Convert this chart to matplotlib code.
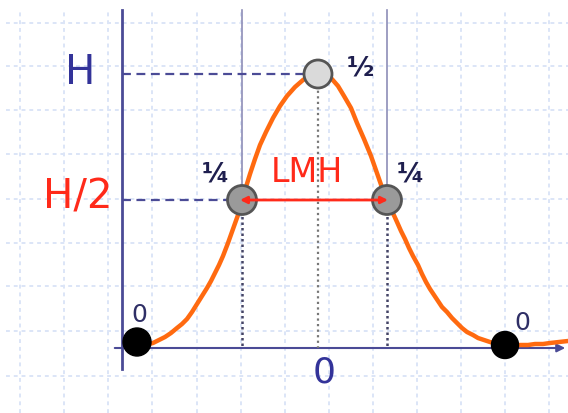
import numpy as np
import matplotlib
matplotlib.use('Agg')
import matplotlib.pyplot as plt
from matplotlib.patches import Circle

# line profile, x relative to the peak, y height above the baseline
profile_x = [-181, -177, -173, -169, -165, -159, -153, -147, -141, -136, -131, -126,
             -121, -116, -111, -107, -103, -99, -95, -90, -85, -80, -76, -72,
             -68, -63, -58, -52, -45, -38, -31, -23, -15, -8, 0,
             7, 13, 20, 26, 33, 39, 46, 53, 60, 68,
             74, 79, 83, 87, 91, 95, 100, 104, 108, 112, 116, 120, 124,
             129, 134, 139, 144, 149, 155, 160, 166, 172, 180, 187,
             195, 202, 210, 217, 225, 232, 241, 250]
profile_y = [2, 2, 3, 4, 5, 8, 11, 15, 20, 24, 29, 36,
             44, 52, 60, 67, 75, 83, 92, 105, 119, 133, 147, 161,
             174, 189, 203, 216, 230, 242, 252, 261, 268, 273, 275,
             274, 270, 262, 252, 240, 225, 209, 192, 172, 149,
             137, 126, 117, 109, 100, 92, 83, 74, 66, 59, 53, 47, 41,
             36, 30, 25, 20, 16, 13, 10, 8, 6, 4, 3,
             3, 3, 3, 4, 4, 5, 6, 7]

H = 274           # peak height
half = 148        # half-height level
x_left, x_right = -76, 69   # half-height crossings
x_zero_l, x_zero_r = -181, 187

grid_x = [-298, -254, -210, -166, -121, -77, -33, 11, 55, 99, 143, 187, 231]
grid_y = [325, 282, 238, 194, 149, 105, 62, 17, -28]

navy = '#4b4b96'
red = '#ff2a1a'
orange = '#ff6a10'

fig = plt.figure(figsize=(5.68, 4.14), dpi=100)
ax = fig.add_axes([0, 0, 1, 1])
ax.set_xlim(-318, 250)
ax.set_ylim(-65, 349)
ax.axis('off')

# background grid
for gx in grid_x:
    ax.plot([gx, gx], [-65, 337], ls=(0, (2, 2)), color='#dce5f7', lw=1.4, zorder=0)
for gy in grid_y:
    ax.plot([-312, 250], [gy, gy], ls=(0, (2, 2)), color='#dce5f7', lw=1.4, zorder=0)

# axes
ax.plot([-196, -196], [338, -21], color=navy, lw=2, zorder=2)
ax.annotate('', xy=(250, 0), xytext=(-206, 0),
            arrowprops=dict(arrowstyle='-|>', color=navy, lw=1.5,
                            mutation_scale=12), zorder=2)

# reference levels
ax.plot([-196, 0], [H, H], ls=(0, (4, 2.5)), color=navy, lw=1.6, zorder=2)
ax.plot([-196, x_left], [half, half], ls=(0, (4, 2.5)), color=navy, lw=1.6, zorder=2)

# verticals through the half-height points and the peak
for xv in (x_left, x_right):
    ax.plot([xv, xv], [338, half], color='#8e8eb8', lw=1.2, zorder=1)
    ax.plot([xv, xv], [half, 0], ls=(0, (1, 1.2)), color='#444466', lw=1.8, zorder=2)
ax.plot([0, 0], [H, 0], ls=(0, (1, 1.5)), color='#777777', lw=1.6, zorder=2)

# profile
ax.plot(profile_x, profile_y, color=orange, lw=3.2, solid_capstyle='round',
        solid_joinstyle='round', zorder=3)

# markers
ax.add_patch(Circle((0, H), 14, fc='#dadada', ec='#555555', lw=2, zorder=4))
for xv in (x_left, x_right):
    ax.add_patch(Circle((xv, half), 14.5, fc='#9a9a9a', ec='#555555', lw=2, zorder=4))
ax.add_patch(Circle((x_zero_l, 6), 14, fc='black', ec='black', zorder=4))
ax.add_patch(Circle((x_zero_r, 3), 13.5, fc='black', ec='black', zorder=4))

# width at half maximum
ax.annotate('', xy=(x_right + 1, half), xytext=(x_left - 2, half),
            arrowprops=dict(arrowstyle='<|-|>', color=red, lw=2,
                            mutation_scale=10, shrinkA=0, shrinkB=0), zorder=5)

# labels
ax.text(-238, 276, 'H', color='#333399', fontsize=29, ha='center', va='center')
ax.text(-240, 152, 'H/2', color=red, fontsize=29, ha='center', va='center')
ax.text(-11, 176, 'LMH', color=red, fontsize=24, ha='center', va='center')
ax.text(6, -24, '0', color='#333399', fontsize=26, ha='center', va='center')
ax.text(-103, 174, '¼', color='#1f1f4f', fontsize=19, fontweight='bold',
        ha='center', va='center')
ax.text(92, 174, '¼', color='#1f1f4f', fontsize=19, fontweight='bold',
        ha='center', va='center')
ax.text(42, 281, '½', color='#1f1f4f', fontsize=19, fontweight='bold',
        ha='center', va='center')
ax.text(-179, 34, '0', color='#2f2f66', fontsize=18, ha='center', va='center')
ax.text(204, 26, '0', color='#2f2f66', fontsize=18, ha='center', va='center')

fig.savefig('out.png', dpi=100)
